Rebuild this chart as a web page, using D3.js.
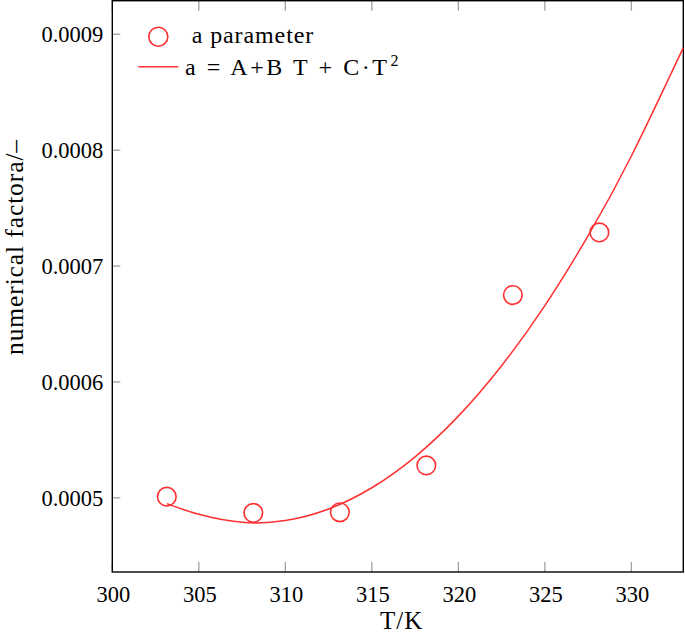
<!DOCTYPE html>
<html>
<head>
  <meta charset="UTF-8">
  <script src="https://d3js.org/d3.v7.min.js"></script>
  <style>
    body { margin: 0; background: #fff; }
    svg text { font-family: "Liberation Serif", "DejaVu Serif", serif; fill: #000; }
    .tick line { stroke: #a0a0a0; stroke-width: 1.3px; }
    .frame { fill: none; stroke: #000; stroke-width: 1.4px; }
    .fit { fill: none; stroke: #ff3030; stroke-width: 1.5px; }
    .pt { fill: none; stroke: #ff3030; stroke-width: 1.6px; }
  </style>
</head>
<body>
  <svg width="685" height="642" font-family="Liberation Serif, DejaVu Serif, serif"></svg>
  <script>
    // measured a parameter
    const temps = [303.15, 308.15, 313.15, 318.15, 323.15, 328.15];
    const aParam = [0.000501, 0.000487, 0.0004875, 0.000528, 0.000675, 0.000729];

    // fitted curve
    const fitT = [303.15, 305, 307.5, 310, 312.5, 315, 317.5, 320, 322.5, 325, 327.5, 330, 333];
    const fitA = [0.000495, 0.0004858, 0.0004789, 0.0004804, 0.0004904, 0.0005087, 0.0005354,
                  0.0005705, 0.000614, 0.0006659, 0.0007262, 0.000795, 0.0008885];

    const xTicks = [300, 305, 310, 315, 320, 325, 330];
    const yTicks = [0.0005, 0.0006, 0.0007, 0.0008, 0.0009];
    const yTickLabels = ["0.0005", "0.0006", "0.0007", "0.0008", "0.0009"];

    const mLeft = 112.3, mRight = 683.3, mTop = 0.7, mBottom = 572;

    const x = d3.scaleLinear().domain([300, 333]).range([mLeft, mRight]);
    const y = d3.scaleLinear().domain([0.000436, 0.000929]).range([mBottom, mTop]);

    const svg = d3.select("svg");

    // ticks (inward, bottom + top + left)
    const xt = svg.append("g");
    xTicks.forEach(t => {
      const g = xt.append("g").attr("class", "tick");
      g.append("line").attr("x1", x(t)).attr("x2", x(t)).attr("y1", mBottom).attr("y2", mBottom - 10);
      g.append("line").attr("x1", x(t)).attr("x2", x(t)).attr("y1", mTop).attr("y2", mTop + 10);
      g.append("text")
        .attr("x", x(t) + 1)
        .attr("y", 601.7)
        .attr("text-anchor", "middle")
        .style("font-size", "22.5px")
        .text(t);
    });

    const yt = svg.append("g");
    yTicks.forEach((t, i) => {
      const g = yt.append("g").attr("class", "tick");
      g.append("line").attr("x1", mLeft).attr("x2", mLeft + 8).attr("y1", y(t)).attr("y2", y(t));
      g.append("text")
        .attr("x", 103.3)
        .attr("y", y(t) + 8)
        .attr("text-anchor", "end")
        .style("font-size", "22.5px")
        .text(yTickLabels[i]);
    });

    // frame
    svg.append("rect").attr("class", "frame")
      .attr("x", mLeft).attr("y", mTop)
      .attr("width", mRight - mLeft).attr("height", mBottom - mTop);

    // fit line
    const line = d3.line()
      .x((d, i) => x(fitT[i]))
      .y(d => y(d))
      .curve(d3.curveNatural);

    svg.append("path").attr("class", "fit").attr("d", line(fitA));

    // points
    svg.selectAll(".pt")
      .data(aParam)
      .enter()
      .append("circle")
      .attr("class", "pt")
      .attr("cx", (d, i) => x(temps[i]))
      .attr("cy", d => y(d))
      .attr("r", 9.3);

    // axis labels
    svg.append("text")
      .attr("x", 401.7).attr("y", 628.5)
      .attr("text-anchor", "middle")
      .style("font-size", "25px")
      .style("letter-spacing", "1px")
      .text("T/K");

    svg.append("text")
      .attr("transform", "translate(22.7,247) rotate(-90)")
      .attr("text-anchor", "middle")
      .style("font-size", "25.5px")
      .style("letter-spacing", "0.9px")
      .text("numerical factora/–");

    // legend
    const lg = svg.append("g");
    lg.append("circle").attr("class", "pt").attr("cx", 158.3).attr("cy", 36.7).attr("r", 9.5);
    lg.append("text").attr("x", 191.7).attr("y", 42.7)
      .style("font-size", "24px")
      .style("letter-spacing", "0.9px")
      .text("a parameter");
    lg.append("line").attr("class", "fit")
      .attr("x1", 138.3).attr("x2", 178.3).attr("y1", 66.7).attr("y2", 66.7);
    const t2 = lg.append("text").attr("x", 185).attr("y", 74.5).style("font-size", "24px");
    t2.append("tspan")
      .attr("textLength", 202)
      .attr("lengthAdjust", "spacing")
      .text("a = A+B T + C·T");
    t2.append("tspan")
      .attr("dy", -9)
      .attr("dx", 1)
      .style("font-size", "16px")
      .text("2");
  </script>
</body>
</html>
